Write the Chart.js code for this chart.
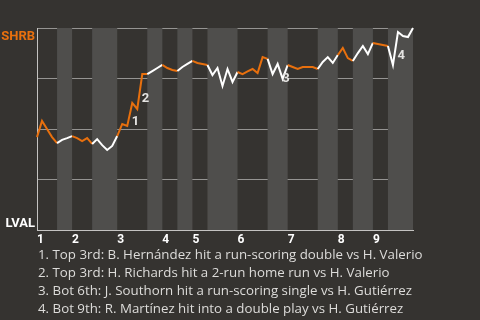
<!DOCTYPE html>
<html>
<head>
<meta charset="utf-8">
<script src="https://cdn.jsdelivr.net/npm/chart.js@4/dist/chart.umd.min.js"></script>
<style>
  html, body { margin: 0; padding: 0; background: #353330; }
  #wrap { position: relative; width: 480px; height: 320px; overflow: hidden; }
  #wpChart { position: absolute; left: 0; top: 0; }
  #notes {
    position: absolute; left: 38px; top: 245px;
    font-family: "Open Sans", sans-serif; font-size: 13.3px; line-height: 18px;
    color: #dddcda; white-space: nowrap;
  }
</style>
</head>
<body>
<div id="wrap">
  <canvas id="wpChart" width="480" height="320"></canvas>
  <div id="notes"></div>
</div>
<script>
// win probability for SHRB (%), one value per play
var winProb = [46, 54, 50, 46, 43, 44.6, 45.5, 46.5, 45.5, 44, 45.5, 42.6, 45, 42, 39.6, 41.6,
  46.5, 52.5, 51.5, 62.9, 59.9, 77.2, 77.2, 78.7, 80.2, 81.7, 80.2, 79.2, 78.7, 80.7, 82.2,
  83.7, 82.7, 82.2, 81.7, 76.7, 80.2, 71.3, 79.7, 73.3, 78.2, 77.2, 78.5, 79.7, 77.7, 85.6,
  84.7, 77.2, 82.2, 74.8, 81.7, 80.7, 79.7, 80.7, 80.7, 80.7, 79.7, 83.2, 85.6, 82.7, 86.6,
  90.1, 85.1, 83.7, 87.6, 91.1, 87.1, 92.6, 92.1, 91.6, 91.1, 81.7, 98, 96, 95.5, 100];
// play index where each half inning starts (top 1st, bot 1st, ...), last = end of game
var halfStarts = [0, 4, 7, 11, 16, 22, 25, 28, 31, 34, 40, 46, 50, 56, 60, 63, 67, 70, 75];
var innings = ['1', '2', '3', '4', '5', '6', '7', '8', '9'];
var eventPlays = [19, 21, 49, 72];
var eventNotes = [
  '1. Top 3rd: B. Hernández hit a run-scoring double vs H. Valerio',
  '2. Top 3rd: H. Richards hit a 2-run home run vs H. Valerio',
  '3. Bot 6th: J. Southorn hit a run-scoring single vs H. Gutiérrez',
  '4. Bot 9th: R. Martínez hit into a double play vs H. Gutiérrez'
];
var teams = ['SHRB', 'LVAL'];

var colors = {
  orange: '#e8700e',
  white: '#ffffff',
  band: '#4f4e4c',
  grid: '#959492',
  axis: '#c4c3c1'
};

function halfIndex(x) {
  for (var h = 0; h < halfStarts.length - 1; h++) {
    if (x >= halfStarts[h] && x < halfStarts[h + 1]) return h;
  }
  return halfStarts.length - 2;
}

var bandsPlugin = {
  id: 'bands',
  beforeDatasetsDraw: function(chart) {
    var ctx = chart.ctx, xs = chart.scales.x, area = chart.chartArea;
    ctx.save();
    ctx.fillStyle = colors.band;
    for (var h = 1; h < halfStarts.length - 1; h += 2) {
      var x0 = xs.getPixelForValue(halfStarts[h]);
      var x1 = xs.getPixelForValue(halfStarts[h + 1]);
      ctx.fillRect(x0, area.top, x1 - x0, area.bottom - area.top);
    }
    ctx.restore();
  }
};

var labelsPlugin = {
  id: 'eventLabels',
  afterDatasetsDraw: function(chart) {
    var ctx = chart.ctx, pts = chart.getDatasetMeta(0).data, area = chart.chartArea;
    ctx.save();
    ctx.font = 'bold 13px Roboto, sans-serif';
    ctx.fillStyle = '#e4e3e1';
    ctx.textAlign = 'left';
    ctx.textBaseline = 'top';
    eventPlays.forEach(function(p, i) {
      var a = pts[p - 1], b = pts[p];
      ctx.fillText(String(i + 1), (a.x + b.x) / 2 + 2, (a.y + b.y) / 2 + 1);
    });
    ctx.textAlign = 'right';
    ctx.fillStyle = colors.orange;
    ctx.fillText(teams[0], area.left - 2, area.top + 2);
    ctx.fillStyle = colors.white;
    ctx.fillText(teams[1], area.left - 2, area.bottom - 13);
    ctx.restore();
  }
};

window.onload = function() {
  document.getElementById('notes').innerHTML = eventNotes.join('<br>');
  var ctx = document.getElementById('wpChart').getContext('2d');
  new Chart(ctx, {
    type: 'line',
    data: {
      datasets: [{
        data: winProb.map(function(v, i) { return { x: i, y: v }; }),
        borderWidth: 2,
        borderColor: colors.white,
        pointRadius: 0,
        tension: 0,
        clip: false,
        segment: {
          borderColor: function(c) {
            return halfIndex(c.p0DataIndex) % 2 === 0 ? colors.orange : colors.white;
          }
        }
      }]
    },
    options: {
      responsive: false,
      animation: false,
      layout: { padding: { left: 37, top: 28, right: 67, bottom: 0 } },
      plugins: { legend: { display: false }, tooltip: { enabled: false } },
      scales: {
        x: {
          type: 'linear',
          min: 0,
          max: halfStarts[halfStarts.length - 1],
          afterFit: function(s) { s.height = 90; },
          afterBuildTicks: function(s) {
            s.ticks = innings.map(function(n, i) { return { value: halfStarts[i * 2] }; });
          },
          grid: { display: false, drawTicks: false },
          border: { color: colors.axis, width: 1 },
          ticks: {
            align: 'start',
            padding: 3,
            autoSkip: false,
            maxRotation: 0,
            color: '#ffffff',
            font: { family: 'Roboto, sans-serif', size: 12, weight: 'bold' },
            callback: function(v) {
              var k = halfStarts.indexOf(v);
              return innings[k / 2];
            }
          }
        },
        y: {
          min: 0,
          max: 100,
          afterFit: function(s) { s.width = 0; },
          grid: { color: colors.grid, lineWidth: 1, drawTicks: false },
          border: { color: colors.axis, width: 1 },
          ticks: { display: false, stepSize: 25 }
        }
      }
    },
    plugins: [bandsPlugin, labelsPlugin]
  });
};
</script>
</body>
</html>
